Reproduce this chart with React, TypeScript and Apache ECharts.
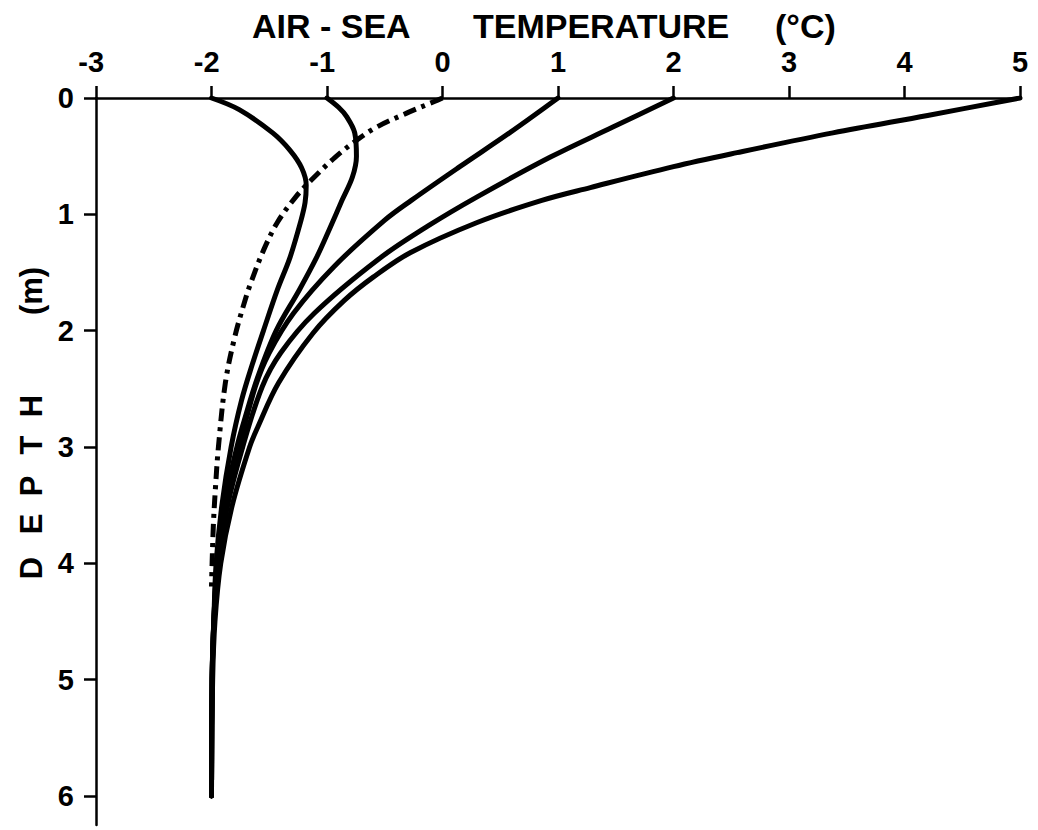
import React, { useEffect, useRef } from "react";
import * as echarts from "echarts";

// Axis ticks
const xTicks = [-3, -2, -1, 0, 1, 2, 3, 4, 5];
const yTicks = [0, 1, 2, 3, 4, 5, 6];

// Curve starting at -2 °C
const depthM2 = [0, 0.1, 0.3, 0.45, 0.6, 0.75, 0.9, 1.07, 1.37, 1.65, 2.0, 2.3, 2.6, 3.0, 3.5, 4.0, 4.5, 5.0, 6.0];
const tempM2 = [-2, -1.76, -1.47, -1.32, -1.22, -1.18, -1.19, -1.23, -1.32, -1.43, -1.55, -1.65, -1.74, -1.83, -1.91, -1.96, -1.98, -1.995, -2.0];

// Curve starting at -1 °C
const depthM1 = [0, 0.08, 0.16, 0.3, 0.5, 0.68, 0.88, 1.13, 1.37, 1.65, 2.0, 2.4, 2.75, 3.0, 3.5, 4.0, 4.5, 5.0, 6.0];
const tempM1 = [-1, -0.9, -0.83, -0.76, -0.745, -0.78, -0.87, -0.98, -1.09, -1.24, -1.44, -1.6, -1.71, -1.78, -1.89, -1.95, -1.98, -1.995, -2.0];

// Dash-dot curve starting at 0 °C
const depth0 = [0, 0.03, 0.13, 0.25, 0.36, 0.51, 0.71, 0.85, 1.07, 1.31, 1.59, 1.74, 2.06, 2.45, 3.0, 3.34, 3.7, 4.2];
const temp0 = [0, -0.07, -0.31, -0.57, -0.74, -0.93, -1.14, -1.27, -1.43, -1.55, -1.66, -1.71, -1.8, -1.88, -1.94, -1.965, -1.985, -2.0];

// Curve starting at 1 °C
const depthP1 = [0, 0.3, 0.59, 0.88, 1.05, 1.45, 1.85, 2.19, 2.48, 3.0, 3.5, 4.0, 4.5, 5.0, 6.0];
const tempP1 = [1, 0.58, 0.15, -0.27, -0.5, -0.94, -1.29, -1.5, -1.62, -1.76, -1.88, -1.95, -1.98, -1.995, -2.0];

// Curve starting at 2 °C
const depthP2 = [0, 0.25, 0.51, 0.85, 1.1, 1.39, 1.85, 2.19, 2.48, 3.0, 3.5, 4.0, 4.5, 5.0, 6.0];
const tempP2 = [2, 1.475, 0.93, 0.3, -0.125, -0.56, -1.11, -1.4, -1.56, -1.73, -1.86, -1.94, -1.98, -1.995, -2.0];

// Curve starting at 5 °C
const depthP5 = [0, 0.15, 0.3, 0.47, 0.59, 0.77, 0.88, 1.07, 1.33, 1.54, 1.74, 2.02, 2.45, 2.83, 3.0, 3.5, 4.0, 4.5, 5.0, 6.0];
const tempP5 = [5, 4.2, 3.38, 2.55, 2.0, 1.28, 0.86, 0.3, -0.28, -0.6, -0.85, -1.12, -1.42, -1.6, -1.67, -1.82, -1.92, -1.97, -1.99, -2.0];

const xTitleParts = ["AIR - SEA", "TEMPERATURE", "(°C)"];
const yTitleLetters = ["D", "E", "P", "T", "H", "(m)"];

const pairs = (t: number[], d: number[]) => t.map((v, i) => [v, d[i]]);

export default function App() {
  const ref = useRef<HTMLDivElement>(null);

  useEffect(() => {
    document.body.style.margin = "0";
    const el = ref.current;
    if (!el) return;
    const chart = echarts.init(el, null, { renderer: "svg" });
    const fontFamily = '"Liberation Sans", Arial, sans-serif';

    const line = (name: string, t: number[], d: number[], dashed = false) => ({
      type: "line",
      name,
      data: pairs(t, d),
      smooth: 0.35,
      showSymbol: false,
      symbol: "none",
      silent: true,
      lineStyle: {
        color: "#000",
        width: 5,
        type: dashed ? [13, 6, 4, 6] : "solid",
        cap: dashed ? "butt" : "round",
        join: "round",
      },
    });

    const labelText = {
      fontSize: 29,
      lineHeight: 29,
      fontWeight: "bold",
      fontFamily,
      color: "#000",
    };

    const titleX = [252, 473, 775];
    const letterY = [568, 524, 486, 445, 406, 291];

    chart.setOption({
      animation: false,
      backgroundColor: "#fff",
      grid: { left: 96, right: 18, top: 98, bottom: 5, containLabel: false },
      xAxis: {
        type: "value",
        position: "top",
        min: -3,
        max: 5,
        interval: 1,
        axisLine: { show: true, onZero: false, lineStyle: { color: "#000", width: 2.5 } },
        axisTick: { show: true, length: 12, lineStyle: { color: "#000", width: 2.5 } },
        splitLine: { show: false },
        axisLabel: {
          margin: 22,
          customValues: xTicks,
          formatter: (v: number) => (v < 0 ? `{n|${v}}{h|-}` : `{n|${v}}`),
          rich: {
            n: { ...labelText },
            h: { ...labelText, color: "rgba(0,0,0,0)" },
          },
        },
      },
      yAxis: {
        type: "value",
        inverse: true,
        min: 0,
        max: 6.25,
        interval: 1,
        axisLine: { show: true, onZero: false, lineStyle: { color: "#000", width: 2.5 } },
        axisTick: { show: true, length: 12, customValues: yTicks, lineStyle: { color: "#000", width: 2.5 } },
        splitLine: { show: false },
        axisLabel: {
          margin: 22,
          customValues: yTicks,
          ...labelText,
        },
      },
      graphic: [
        ...xTitleParts.map((t, i) => ({
          type: "text",
          x: titleX[i],
          y: 26,
          silent: true,
          style: {
            text: t,
            fontSize: 34,
            lineHeight: 30,
            fontWeight: "bold",
            fontFamily,
            fill: "#000",
            align: "left",
            verticalAlign: "middle",
          },
        })),
        ...yTitleLetters.map((t, i) => ({
          type: "text",
          x: 31,
          y: letterY[i],
          rotation: Math.PI / 2,
          silent: true,
          style: {
            text: t,
            fontSize: 31,
            fontWeight: "bold",
            fontFamily,
            fill: "#000",
            align: "center",
            verticalAlign: "middle",
          },
        })),
      ],
      series: [
        line("-2", tempM2, depthM2),
        line("-1", tempM1, depthM1),
        line("0", temp0, depth0, true),
        line("1", tempP1, depthP1),
        line("2", tempP2, depthP2),
        line("5", tempP5, depthP5),
      ],
    });

    return () => chart.dispose();
  }, []);

  return <div ref={ref} style={{ width: 1038, height: 830 }} />;
}
